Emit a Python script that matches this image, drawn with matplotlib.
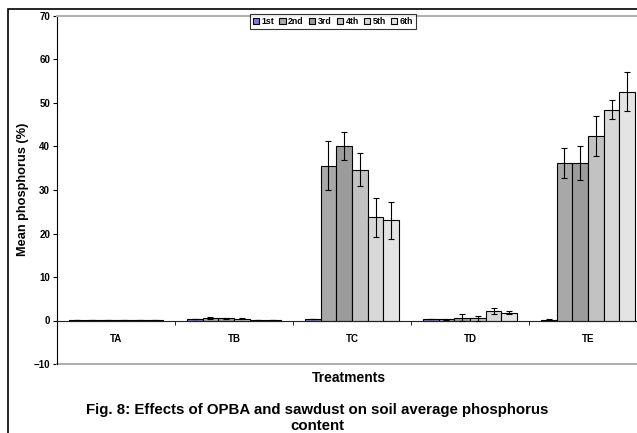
import matplotlib.pyplot as plt
import matplotlib.patches as mpatches
import numpy as np

plt.rcParams['font.family'] = ['Liberation Sans', 'DejaVu Sans']
plt.rcParams['font.weight'] = 'bold'

treatments = ["TA", "TB", "TC", "TD", "TE"]
series = ["1st", "2nd", "3rd", "4th", "5th", "6th"]

# mean phosphorus per treatment, one list per sampling
values = {
    "1st": [0.1, 0.3, 0.3, 0.3, 0.2],
    "2nd": [0.1, 0.6, 35.6, 0.3, 36.2],
    "3rd": [0.1, 0.5, 40.2, 0.6, 36.1],
    "4th": [0.1, 0.4, 34.7, 0.5, 42.4],
    "5th": [0.1, 0.15, 23.7, 2.2, 48.5],
    "6th": [0.1, 0.15, 23.0, 1.8, 52.6],
}
errors = {
    "1st": [0.05, 0.05, 0.05, 0.05, 0.05],
    "2nd": [0.05, 0.15, 5.7, 0.1, 3.4],
    "3rd": [0.05, 0.1, 3.2, 0.8, 3.9],
    "4th": [0.05, 0.1, 3.7, 0.6, 4.5],
    "5th": [0.05, 0.05, 4.5, 0.6, 2.1],
    "6th": [0.05, 0.05, 4.2, 0.3, 4.5],
}
colors = ["#7a7ae0", "#a8a8a8", "#9c9c9c", "#c2c2c2", "#d8d8d8", "#e4e4e4"]

fig = plt.figure(figsize=(6.37, 4.33), dpi=100)
ax = fig.add_axes([57 / 637, 1 - 364 / 433, 590 / 637, 348 / 433])

x = np.arange(len(treatments))
width = 0.8 / len(series)
for i, s in enumerate(series):
    pos = x - 0.4 + width * (i + 0.5)
    ax.bar(pos, values[s], width, color=colors[i], edgecolor="black",
           linewidth=0.8, label=s, zorder=2)
    ax.errorbar(pos, values[s], yerr=errors[s], fmt="none", ecolor="black",
                elinewidth=0.8, capsize=2.5, capthick=0.8, zorder=3)

ax.set_xlim(-0.5, 4.5)
ax.set_ylim(-10, 70)
ax.set_yticks(range(-10, 71, 10))
ax.set_xticks(x)
ax.set_xticklabels(treatments)
ax.set_xticks(np.arange(0.5, 4.5, 1), minor=True)
ax.tick_params(axis="x", which="major", length=0, pad=10, labelsize=7)
ax.tick_params(axis="x", which="minor", length=3, direction="out")
ax.tick_params(axis="y", length=3, labelsize=7, pad=2)

ax.spines["bottom"].set_position(("data", 0))
ax.spines["bottom"].set_color("#222222")
ax.spines["right"].set_visible(False)
ax.spines["top"].set_color("#b0b0b0")
ax.spines["top"].set_linewidth(1.5)
ax.axhline(-10, color="#b0b0b0", linewidth=1.5, clip_on=False)

fig.text(23 / 637, 1 - 189 / 433, "Mean phosphorus (%)", rotation=90,
         ha="center", va="center", fontsize=9.2)
fig.text(349 / 637, 1 - 378 / 433, "Treatments", ha="center", va="center",
         fontsize=10)
fig.text(317 / 637, 1 - 418 / 433,
         "Fig. 8: Effects of OPBA and sawdust on soil average phosphorus\ncontent",
         ha="center", va="center", fontsize=10.8, linespacing=1.2)

leg = fig.legend(loc="center", bbox_to_anchor=(333 / 637, 1 - 21.5 / 433),
                 ncol=6, fontsize=6.3, frameon=True, fancybox=False,
                 handlelength=0.7, handleheight=0.7, handletextpad=0.3,
                 columnspacing=0.6, borderpad=0.3, borderaxespad=0)
leg.get_frame().set_edgecolor("black")
leg.get_frame().set_linewidth(0.8)

# outer chart border
fig.patches.append(mpatches.Rectangle((8 / 637, -0.5), 2, 1.5 - 9 / 433,
                                      transform=fig.transFigure, fill=False,
                                      edgecolor="black", linewidth=1.2))

fig.savefig("out.png", dpi=100)
